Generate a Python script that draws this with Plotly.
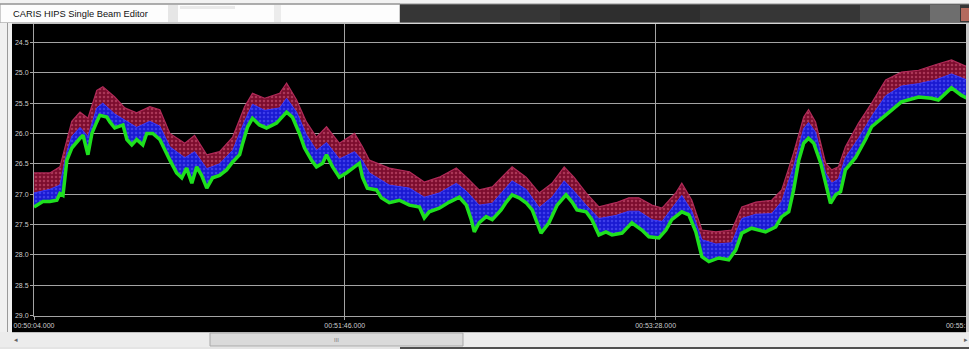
import plotly.graph_objects as go

# ---------------- data ----------------
# seconds after 00:50:04.000, depth in metres (axis reversed)
t_green = [0, 2.9, 5.2, 7.5, 8.5, 9.5, 10.8, 12.4, 15.1, 16.1, 17.7, 19.0, 20.6, 21.6, 23.9, 24.9,
           26.5, 29.2, 30.5, 32.1, 33.7, 35.7, 37.0, 39.0, 41.3, 42.9, 44.6, 46.8, 48.5, 50.1, 51.8,
           53.4, 55.0, 56.7, 58.6, 60.9, 63.2, 65.2, 67.5, 68.5, 70.1, 71.7, 74.0, 76.3, 79.6, 82.9,
           84.8, 87.1, 88.8, 91.1, 92.7, 94.7, 96.0, 98.0, 100.2, 102.5, 104.5, 106.8, 107.8, 109.4,
           112.4, 114.0, 116.6, 119.9, 123.2, 126.5, 128.1, 129.7, 133.0, 136.3, 139.6, 141.9, 143.5,
           144.5, 146.1, 148.4, 150.4, 153.3, 155.0, 156.9, 159.2, 161.5, 163.5, 165.1, 166.4, 169.0,
           171.7, 174.6, 176.6, 178.2, 181.2, 183.1, 185.4, 187.7, 189.7, 193.0, 196.2, 199.5, 201.8,
           205.1, 207.4, 209.3, 212.6, 214.9, 217.2, 219.2, 221.5, 224.7, 228.0, 230.3, 232.3, 235.5,
           240.1, 243.4, 245.4, 247.7, 249.3, 251.0, 252.6, 254.2, 255.9, 258.2, 259.8, 261.4, 263.1,
           264.7, 266.3, 269.6, 272.9, 274.9, 279.5, 284.7, 290.3, 294.5, 296.8, 301.1, 304.3, 306.2]
green_depth = [27.21, 27.12, 27.12, 27.10, 26.99, 27.02, 26.44, 26.24, 26.08, 26.03, 26.35, 26.00, 25.81,
               25.70, 25.73, 25.81, 25.91, 25.86, 26.10, 26.19, 26.10, 26.19, 26.00, 26.00, 26.10, 26.27,
               26.44, 26.65, 26.73, 26.57, 26.82, 26.55, 26.69, 26.90, 26.73, 26.69, 26.60, 26.47, 26.35,
               26.16, 25.89, 25.75, 25.86, 25.91, 25.83, 25.65, 25.73, 26.00, 26.24, 26.44, 26.55, 26.49,
               26.35, 26.55, 26.72, 26.65, 26.57, 26.49, 26.72, 26.90, 26.93, 27.06, 27.14, 27.10, 27.18,
               27.21, 27.39, 27.29, 27.23, 27.13, 27.05, 27.18, 27.42, 27.62, 27.47, 27.37, 27.42, 27.26,
               27.13, 27.01, 27.06, 27.14, 27.26, 27.47, 27.64, 27.47, 27.18, 27.01, 27.13, 27.26, 27.29,
               27.42, 27.67, 27.62, 27.67, 27.64, 27.47, 27.59, 27.70, 27.72, 27.59, 27.42, 27.29, 27.34,
               27.62, 28.03, 28.11, 28.05, 28.08, 27.92, 27.64, 27.56, 27.62, 27.54, 27.37, 27.29, 26.93,
               26.44, 26.16, 26.08, 26.16, 26.49, 26.82, 27.15, 27.01, 26.96, 26.60, 26.40, 26.10, 25.89,
               25.70, 25.48, 25.40, 25.42, 25.45, 25.25, 25.37, 25.42]

t_band = [0, 5.2, 8.5, 10.8, 12.4, 15.1, 17.7, 20.6, 22.6, 26.5, 29.8, 33.7, 38.0, 41.3, 44.6, 49.5,
          52.7, 56.7, 60.9, 65.2, 69.1, 71.7, 75.7, 80.6, 82.9, 86.2, 89.4, 92.7, 96.0, 100.2, 105.2,
          107.8, 110.1, 116.6, 123.2, 128.1, 133.0, 138.6, 141.9, 146.1, 150.4, 156.9, 161.5, 165.8,
          170.0, 174.0, 177.2, 181.2, 185.4, 191.0, 195.2, 198.5, 202.8, 206.1, 210.6, 212.6, 215.9,
          219.2, 223.8, 229.0, 232.3, 236.9, 242.1, 245.4, 249.3, 252.6, 254.2, 256.5, 259.8, 261.8,
          264.0, 266.3, 270.6, 274.9, 279.5, 284.7, 290.3, 295.8, 301.1, 306.2]
red_top = [26.65, 26.65, 26.55, 26.10, 25.80, 25.65, 25.75, 25.29, 25.23, 25.40, 25.58, 25.66, 25.56,
           25.61, 26.00, 26.16, 26.03, 26.35, 26.30, 26.06, 25.56, 25.34, 25.42, 25.34, 25.17, 25.45,
           25.81, 26.06, 25.89, 26.16, 26.00, 26.22, 26.44, 26.57, 26.63, 26.80, 26.72, 26.57, 26.72,
           26.93, 26.88, 26.55, 26.72, 26.98, 26.82, 26.55, 26.72, 26.98, 27.21, 27.14, 27.06, 27.06,
           27.18, 27.23, 26.98, 26.82, 27.10, 27.59, 27.62, 27.59, 27.21, 27.13, 27.10, 26.93, 26.32,
           25.73, 25.61, 25.81, 26.49, 26.60, 26.55, 26.22, 25.83, 25.50, 25.12, 24.99, 24.96, 24.87,
           24.79, 24.90]
blue_top = [26.98, 26.92, 26.85, 26.30, 26.05, 25.90, 26.05, 25.58, 25.50, 25.68, 25.78, 25.90, 25.80,
            25.88, 26.22, 26.40, 26.30, 26.58, 26.50, 26.28, 25.80, 25.52, 25.62, 25.58, 25.42, 25.65,
            26.02, 26.28, 26.15, 26.42, 26.30, 26.45, 26.65, 26.85, 26.90, 27.05, 26.98, 26.82, 26.95,
            27.18, 27.15, 26.78, 26.92, 27.22, 27.05, 26.78, 26.95, 27.18, 27.40, 27.35, 27.28, 27.28,
            27.42, 27.45, 27.15, 27.02, 27.28, 27.75, 27.82, 27.80, 27.40, 27.33, 27.32, 27.12, 26.55,
            25.92, 25.82, 25.98, 26.65, 26.82, 26.75, 26.40, 26.08, 25.72, 25.38, 25.22, 25.18, 25.12,
            25.02, 25.12]

x_tick_vals = [0, 102, 204, 306]
x_tick_text = ["00:50:04.000", "00:51:46.000", "00:53:28.000", "00:55:10.000"]
y_tick_vals = [24.5, 25.0, 25.5, 26.0, 26.5, 27.0, 27.5, 28.0, 28.5, 29.0]

window_title = "CARIS HIPS Single Beam Editor"

# ---------------- geometry ----------------
W, H = 969, 349
L, R, T, B = 34, 2, 23, 33
PW, PH = W - L - R, H - T - B


def px_x(px):
    return (px - L) / PW


def px_y(py):
    return (H - B - py) / PH


def rect(x0, y0, x1, y1, fill, line=None, lw=1):
    return dict(type="rect", xref="paper", yref="paper", layer="above",
                x0=px_x(x0), x1=px_x(x1), y0=px_y(y1), y1=px_y(y0),
                fillcolor=fill,
                line=dict(color=line, width=lw) if line else dict(width=0))


def hline(x0, x1, y, color, lw=1):
    return dict(type="line", xref="paper", yref="paper", layer="above",
                x0=px_x(x0), x1=px_x(x1), y0=px_y(y), y1=px_y(y),
                line=dict(color=color, width=lw))


def vline(x, y0, y1, color, lw=1):
    return dict(type="line", xref="paper", yref="paper", layer="above",
                x0=px_x(x), x1=px_x(x), y0=px_y(y0), y1=px_y(y1),
                line=dict(color=color, width=lw))


fig = go.Figure()

# red speckle band
fig.add_trace(go.Scatter(x=t_band, y=red_top, mode="lines",
                         line=dict(color="#b02a58", width=1.2), hoverinfo="skip", showlegend=False))
fig.add_trace(go.Scatter(x=t_green, y=green_depth, mode="lines", line=dict(width=0),
                         fill="tonexty", fillcolor="#7c0d2e",
                         fillpattern=dict(shape=".", bgcolor="#7c0d2e", fgcolor="#d8607f",
                                          size=4, solidity=0.3),
                         hoverinfo="skip", showlegend=False))
# blue band
fig.add_trace(go.Scatter(x=t_band, y=blue_top, mode="lines",
                         line=dict(color="#3a3aff", width=1), hoverinfo="skip", showlegend=False))
fig.add_trace(go.Scatter(x=t_green, y=green_depth, mode="lines", line=dict(width=0),
                         fill="tonexty", fillcolor="#1a1ad2",
                         fillpattern=dict(shape=".", bgcolor="#1a1ad2", fgcolor="#6060ff",
                                          size=4, solidity=0.3),
                         hoverinfo="skip", showlegend=False))
# green depth line
fig.add_trace(go.Scatter(x=t_green, y=green_depth, mode="lines",
                         line=dict(color="#1ee01e", width=3.5), hoverinfo="skip", showlegend=False))

grid = "#a4a4a4"
tickfont = dict(family="Liberation Sans, Arial, sans-serif", size=7, color="#cccccc")

shapes = [
    # top title strip
    rect(0, 0, W, 24, "#f2f2f2"),
    rect(0, 4, 400, 23, "#fdfdfd", "#9c9c9c"),
    rect(168, 5, 178, 22, "#e6e6e6"),
    rect(180, 6, 235, 9, "#e9e9e9"),
    rect(274, 5, 281, 22, "#ececec"),
    rect(400, 4, W, 23, "#363636"),
    rect(560, 5, 700, 22, "#2e2e2e"),
    rect(860, 5, 930, 22, "#4a4a4a"),
    rect(930, 5, 960, 22, "#6e6e6e"),
    rect(961, 8, W, 21, "#b46a5e"),
    hline(0, W, 4, "#8e8e8e"),
    hline(0, W, 23, "#b8b8b8"),
    # left frame
    rect(0, 23, 12, H, "#f0f0f0"),
    vline(7.5, 23, H, "#9a9a9a"),
    # right frame
    rect(966, 23, W, H, "#c8c8c8"),
    # bottom scrollbar
    rect(0, 332, W, H, "#ececec"),
    hline(12, 966, 332.5, "#c0c0c0"),
    rect(210, 333, 463, 346, "#dadada", "#a9a9a9"),
    rect(0, 347, 400, H, "#e4e4e4"),
    rect(400, 347, W, H, "#505050"),
]

annotations = [
    dict(x=px_x(11), y=px_y(14), xref="paper", yref="paper", xanchor="left", yanchor="middle",
         text=window_title, showarrow=False,
         font=dict(family="Liberation Sans, Arial, sans-serif", size=9.3, color="#111111")),
    dict(x=px_x(336), y=px_y(339.5), xref="paper", yref="paper", xanchor="center", yanchor="middle",
         text="III", showarrow=False, font=dict(family="Liberation Sans", size=6, color="#7a7a7a")),
    dict(x=px_x(16), y=px_y(339.5), xref="paper", yref="paper", xanchor="center", yanchor="middle",
         text="◂", showarrow=False, font=dict(family="DejaVu Sans", size=7, color="#606060")),
    dict(x=px_x(966), y=px_y(339.5), xref="paper", yref="paper", xanchor="center", yanchor="middle",
         text="▸", showarrow=False, font=dict(family="DejaVu Sans", size=7, color="#606060")),
]

fig.update_layout(
    width=W, height=H,
    margin=dict(l=L, r=R, t=T, b=B, pad=0, autoexpand=False),
    paper_bgcolor="#000000", plot_bgcolor="#000000",
    showlegend=False,
    shapes=shapes,
    annotations=annotations,
    xaxis=dict(range=[0, 306.2], tickmode="array", tickvals=x_tick_vals, ticktext=x_tick_text,
               showgrid=True, gridcolor=grid, gridwidth=1, zeroline=False, automargin=False,
               showline=True, linecolor=grid, linewidth=1, ticklabeloverflow="allow",
               ticks="outside", ticklen=3, tickcolor=grid, tickfont=tickfont, fixedrange=True),
    yaxis=dict(range=[29.005, 24.182], tickmode="array", tickvals=y_tick_vals,
               ticktext=[f"{v:.1f}" for v in y_tick_vals], automargin=False,
               showgrid=True, gridcolor=grid, gridwidth=1, zeroline=False,
               showline=True, linecolor=grid, linewidth=1,
               ticks="outside", ticklen=3, tickcolor=grid, tickfont=tickfont, fixedrange=True),
)

fig.write_html("out.html")
